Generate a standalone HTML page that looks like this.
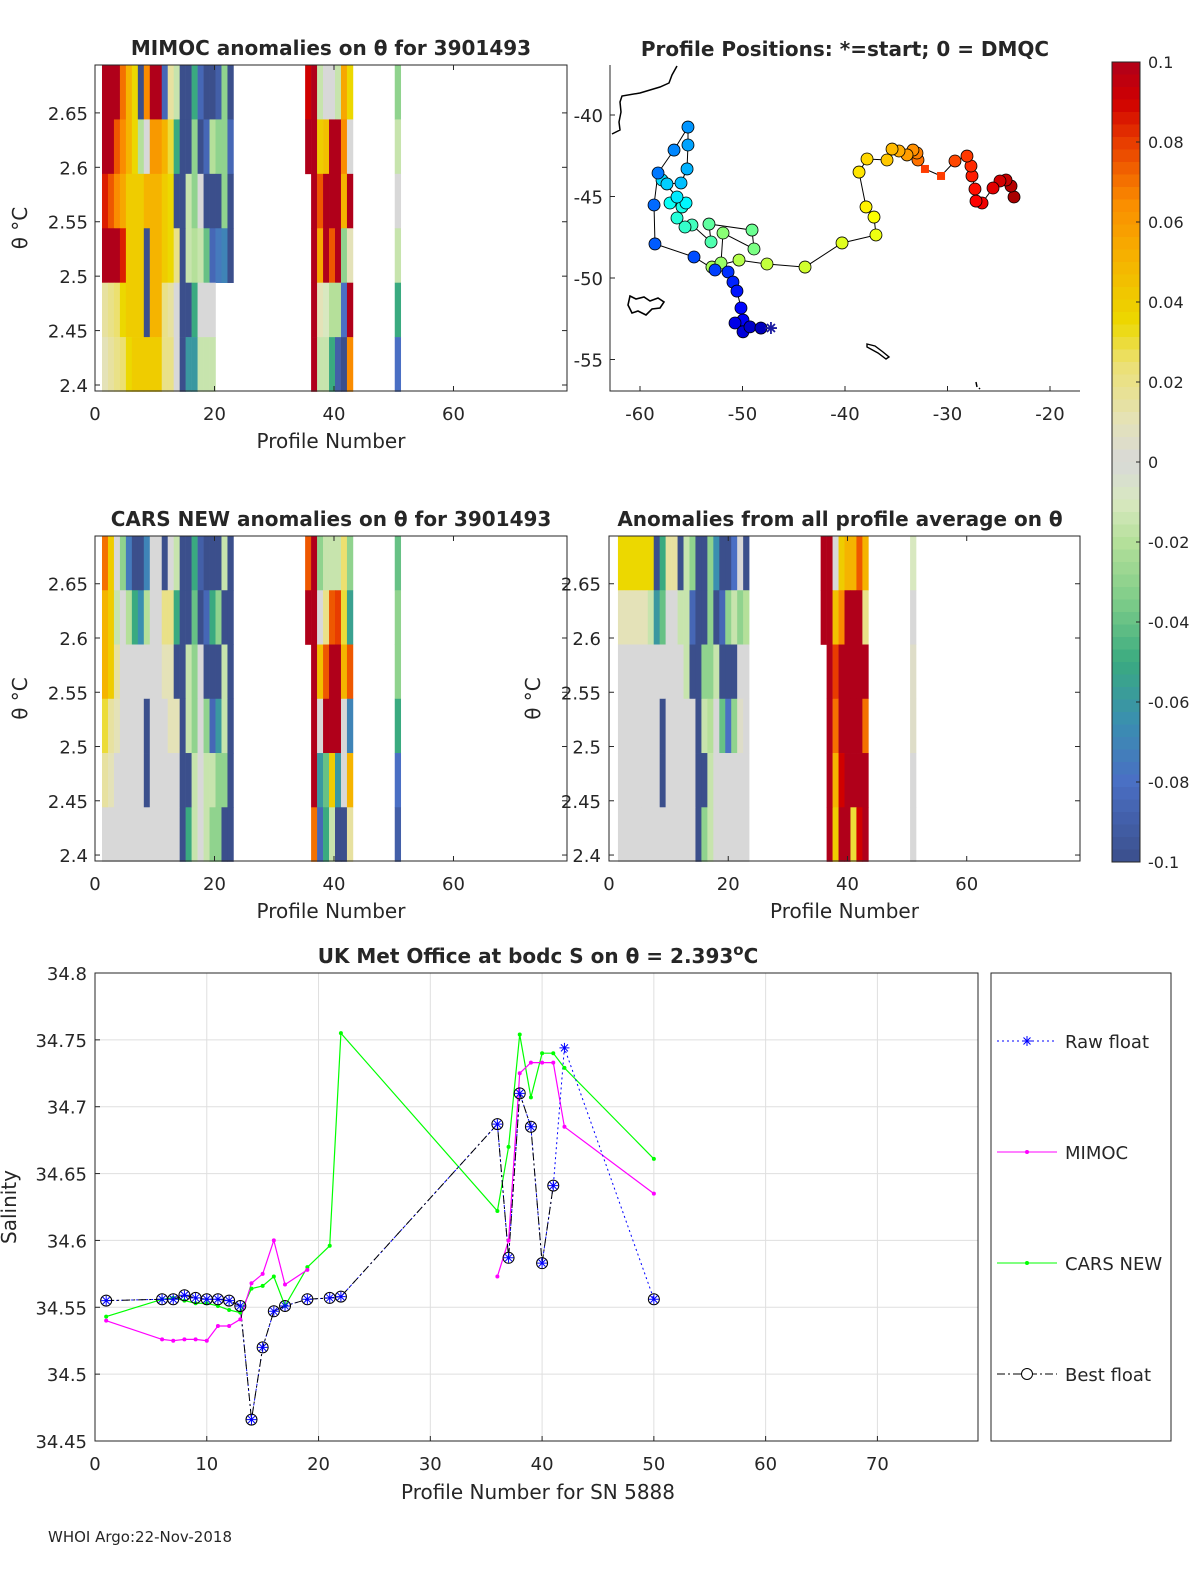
<!DOCTYPE html>
<html><head><meta charset="utf-8"><style>
html,body{margin:0;padding:0;background:#fff;overflow:hidden;width:1200px;height:1575px}
svg text{font-family:"DejaVu Sans","Liberation Sans",sans-serif;fill:#262626}
</style></head><body>
<svg id="fig" width="1200" height="1575" viewBox="0 0 1200 1575" xmlns="http://www.w3.org/2000/svg"></svg>
<script>
// ---------- DATA ----------
const heatCols = [1,2,3,4,5,6,7,8,9,10,11,12,13,14,15,16,17,18,19,20,21,22,35,36,37,38,39,40,41,42,50];
const rowEdges = [2.694,2.644,2.594,2.544,2.494,2.444,2.394];
const mimocRows = [
[.1,.1,.1,.07,.05,.035,-.1,.065,.1,.1,-.085,.015,-.015,-.1,-.1,-.05,-.085,-.1,-.1,-.09,-.03,-.1, .09,.1,-.015,0,0,-.015,.055,.035, -.03],
[.1,.1,.075,.065,.05,.035,-.02,0,.06,.06,.05,.03,-.05,-.1,-.1,-.03,-.1,-.085,-.02,-.03,-.03,-.085, .1,.1,.04,.045,.1,.1,.065,0, -.015],
[.085,.075,.065,.055,.04,.04,.04,.05,.05,.05,.04,.035,-.1,-.1,-.015,-.03,0,-.1,-.1,-.1,-.03,-.1, null,.1,.075,.1,.1,.1,.05,.1, 0],
[.1,.1,.1,.085,.04,.04,.04,-.1,.05,.05,.04,.035,.02,-.1,-.015,-.02,-.015,-.04,-.085,-.075,-.07,-.1, null,.1,.055,.1,.075,.1,-.03,.01, -.015],
[.015,.02,.025,.035,.04,.04,.04,-.1,.05,.05,.02,.015,0,-.1,-.1,-.05,0,0,0,null,null,null, null,.1,.01,-.01,-.02,-.02,-.08,.1, -.05],
[.01,.015,.02,.025,.035,.04,.04,.04,.04,.04,.02,.02,0,-.1,-.06,-.06,-.015,-.015,-.015,null,null,null, null,.1,-.015,-.015,-.05,-.09,-.1,.065, -.08]];
const carsRows = [
[.07,.04,0,-.03,-.075,-.1,-.1,-.07,0,0,-.1,0,-.015,-.1,-.1,-.05,-.09,-.1,-.1,-.1,-.015,-.1, .075,.1,-.03,-.015,-.015,-.015,.025,-.03, -.04],
[.05,.04,-.015,0,-.02,-.05,-.065,-.02,0,0,.02,.02,-.05,-.1,-.1,-.04,-.1,-.085,-.05,-.03,-.1,-.1, .1,.1,0,.02,.075,.08,.03,-.055, -.03],
[.05,.04,.015,0,0,0,0,0,0,0,.01,.01,-.1,-.1,-.015,-.03,0,-.1,-.1,-.1,-.015,-.1, null,.1,.045,.075,.1,.1,.05,.075, -.03],
[.03,.015,.01,0,0,0,0,-.1,0,0,0,.01,.01,-.1,-.015,-.03,0,-.03,-.085,-.06,-.015,-.1, null,.1,0,.1,.1,.1,0,-.07, -.05],
[.015,.01,0,0,0,0,0,-.1,0,0,0,0,0,-.1,-.1,-.015,0,-.015,-.015,-.03,-.03,-.1, null,.1,-.06,-.04,.04,-.06,0,.05, -.08],
[0,0,0,0,0,0,0,0,0,0,0,0,0,-.1,-.05,-.015,0,-.015,-.03,-.03,-.1,-.1, null,.07,-.085,-.05,-.015,-.1,-.1,.015, -.09]];
const avgRows = [
[.035,.035,.035,.035,.035,.035,-.1,-.05,.015,.015,-.1,-.015,-.03,-.1,-.1,-.03,-.065,-.1,-.1,-.08,0,-.1, .1,.1,0,.04,.05,.05,.075,.05, -.01],
[.01,.01,.01,.01,.01,-.015,-.06,-.04,0,0,-.015,-.015,-.085,-.1,-.1,-.03,-.1,-.085,-.03,-.015,-.03,-.02, .1,.1,.045,.065,.1,.1,.1,.02, 0],
[0,0,0,0,0,0,0,0,0,0,0,-.015,-.1,-.1,-.03,-.03,-.015,-.1,-.1,-.1,0,0, null,.1,.08,.1,.1,.1,.1,.1, .005],
[0,0,0,0,0,0,0,-.1,0,0,0,0,0,-.1,-.015,-.02,0,-.04,-.08,-.03,.005,0, null,.1,.07,.1,.1,.1,.1,.07, .005],
[0,0,0,0,0,0,0,-.1,0,0,0,0,0,-.1,-.1,-.015,0,0,0,0,0,0, null,.1,.05,.09,.1,.1,.1,.1, 0],
[0,0,0,0,0,0,0,0,0,0,0,0,0,-.1,-.03,-.015,0,0,0,0,0,0, null,.1,.04,.1,.1,.03,.09,.1, 0]];
const thetaTicks = [2.4,2.45,2.5,2.55,2.6,2.65];
const thetaTickLabels = ['2.4','2.45','2.5','2.55','2.6','2.65'];
const profTicks = [0,20,40,60];
const mapLon = [-48.2,-49.27,-49.95,-50.73,-49.95,-50.15,-50.54,-50.93,-51.41,-52.68,-54.73,-58.54,-58.63,-58.24,-56.68,-55.32,-55.32,-55.41,-56.0,-57.37,-57.85,-56.39,-55.51,-57.07,-55.9,-56.39,-55.61,-54.93,-53.07,-53.27,-49.07,-48.88,-51.9,-52.1,-52.98,-50.34,-47.61,-43.9,-40.29,-36.98,-37.17,-37.95,-38.63,-37.85,-35.9,-35.41,-34.73,-33.95,-33.37,-32.98,-32.88,-32.2,-30.63,-29.27,-28.1,-27.71,-27.61,-27.32,-27.22,-26.63,-25.56,-24.88,-24.29,-23.8,-23.51];
const mapLat = [-53.07,-53.0,-53.3,-52.76,-52.58,-51.84,-50.8,-50.25,-49.63,-49.51,-48.71,-47.91,-45.52,-43.56,-42.15,-40.74,-41.84,-43.31,-44.17,-44.23,-43.99,-45.03,-45.4,-45.4,-45.64,-46.32,-46.87,-46.75,-47.79,-46.69,-47.06,-48.22,-47.24,-49.08,-49.33,-48.9,-49.14,-49.33,-47.85,-47.36,-46.26,-45.64,-43.5,-42.7,-42.76,-42.09,-42.21,-42.45,-42.15,-42.33,-42.76,-43.31,-43.74,-42.82,-42.52,-43.13,-43.74,-44.54,-45.28,-45.4,-44.48,-44.05,-43.99,-44.36,-45.03];
const mapSquare = [51,52];
const lonTicks = [-60,-50,-40,-30,-20];
const latTicks = [-40,-45,-50,-55];
const cbTicks = [0.1,0.08,0.06,0.04,0.02,0,-0.02,-0.04,-0.06,-0.08,-0.1];
const cbTickLabels = ['0.1','0.08','0.06','0.04','0.02','0','-0.02','-0.04','-0.06','-0.08','-0.1'];
const profiles = [1,6,7,8,9,10,11,12,13,14,15,16,17,19,21,22,36,37,38,39,40,41,42,50];
const rawFloat = [34.555,34.556,34.556,34.559,34.557,34.556,34.556,34.555,34.551,34.466,34.520,34.547,34.551,34.556,34.557,34.558,34.687,34.587,34.710,34.685,34.583,34.641,34.744,34.556];
const bestFloat = [34.555,34.556,34.556,34.559,34.557,34.556,34.556,34.555,34.551,34.466,34.520,34.547,34.551,34.556,34.557,34.558,34.687,34.587,34.710,34.685,34.583,34.641,null,34.556];
const mimocS = [34.540,34.526,34.525,34.526,34.526,34.525,34.536,34.536,34.541,34.568,34.575,34.600,34.567,34.578,null,null,34.573,34.600,34.725,34.733,34.733,34.733,34.685,34.635];
const carsS = [34.543,34.556,34.557,34.555,34.553,34.553,34.551,34.548,34.546,34.564,34.566,34.573,34.551,34.580,34.596,34.755,34.622,34.670,34.754,34.707,34.740,34.740,34.729,34.661];
const salTicks = [34.45,34.5,34.55,34.6,34.65,34.7,34.75,34.8];
const salTickLabels = ['34.45','34.5','34.55','34.6','34.65','34.7','34.75','34.8'];
const bxTicks = [0,10,20,30,40,50,60,70];

// ---------- HELPERS ----------
const NS='http://www.w3.org/2000/svg';
const svg=document.getElementById('fig');
function mk(tag,attrs,parent){const e=document.createElementNS(NS,tag);for(const k in attrs)e.setAttribute(k,attrs[k]);(parent||svg).appendChild(e);return e;}
function txt(s,x,y,size,anchor,extra,parent){const t=mk('text',Object.assign({x:x,y:y,'font-size':size,'text-anchor':anchor||'start'},extra||{}),parent);t.textContent=s;return t;}
const stops=[[-0.1,[59,79,140]],[-0.08,[74,111,196]],[-0.065,[58,143,176]],[-0.05,[58,170,128]],[-0.035,[125,204,136]],[-0.02,[181,224,154]],[-0.01,[216,232,192]],[0,[216,216,216]],[0.01,[228,226,184]],[0.025,[236,224,112]],[0.035,[236,216,0]],[0.05,[245,180,0]],[0.065,[250,140,0]],[0.08,[232,60,0]],[0.09,[208,0,0]],[0.1,[176,0,26]]];
function cmap(v){v=Math.max(-0.1,Math.min(0.1,v));for(let i=1;i<stops.length;i++){if(v<=stops[i][0]){const a=stops[i-1],b=stops[i];const t=(v-a[0])/(b[0]-a[0]);const c=a[1].map((x,j)=>Math.round(x+(b[1][j]-x)*t));return 'rgb('+c.join(',')+')';}}return 'rgb(176,0,26)';}
function jet(t){const r=Math.max(0,Math.min(1,1.5-Math.abs(4*t-3))),g=Math.max(0,Math.min(1,1.5-Math.abs(4*t-2))),b=Math.max(0,Math.min(1,1.5-Math.abs(4*t-1)));return 'rgb('+[r,g,b].map(x=>Math.round(x*255)).join(',')+')';}

// ---------- HEATMAP PANELS ----------
function heatPanel(name,rows,X0,Y0,W,H,off,title,titleX,showYLabel,yLabelX,yTickX){
  const g=mk('g',{});
  
  
  const xs=p=>X0+(p/79)*W;
  const ys=th=>Y0+(2.694-th)/(2.694-2.3945)*H;
  rows.forEach((row,ri)=>{row.forEach((v,ci)=>{if(v===null)return;const p=heatCols[ci]+off;
    const r=mk('rect',{x:xs(p).toFixed(2),y:ys(rowEdges[ri]).toFixed(2),width:(xs(p+1)-xs(p)+0.3).toFixed(2),height:(ys(rowEdges[ri+1])-ys(rowEdges[ri])+0.3).toFixed(2),fill:cmap(v)},g);
    
    });});
  mk('rect',{x:X0,y:Y0,width:W,height:H,fill:'none',stroke:'#262626','stroke-width':1},g);
  thetaTicks.forEach((t,i)=>{const y=ys(t);mk('line',{x1:X0,x2:X0+5,y1:y,y2:y,stroke:'#262626'},g);mk('line',{x1:X0+W,x2:X0+W-5,y1:y,y2:y,stroke:'#262626'},g);
    txt(thetaTickLabels[i],yTickX,y+7,18,'end',{},g);});
  profTicks.forEach(p=>{const x=xs(p);mk('line',{x1:x,x2:x,y1:Y0+H,y2:Y0+H-5,stroke:'#262626'},g);mk('line',{x1:x,x2:x,y1:Y0,y2:Y0+5,stroke:'#262626'},g);txt(String(p),x,Y0+H+29,18,'middle',{},g);});
  txt('Profile Number',X0+W/2,Y0+H+57,20,'middle',{},g);
  txt(title,titleX,Y0-10,20,'middle',{'font-weight':'bold',fill:'#000'},g);
  if(showYLabel){txt('θ °C',0,0,20,'middle',{transform:'translate('+yLabelX+','+(Y0+H/2)+') rotate(-90)'},g);}
}
heatPanel('mimoc-anomaly-heatmap',mimocRows,95,65,472,326,0.17,'MIMOC anomalies on θ  for 3901493',331,true,27,88);
heatPanel('cars-anomaly-heatmap',carsRows,95,536,472,325,0.17,'CARS NEW anomalies on θ for 3901493',331,true,27,88);
heatPanel('profile-average-anomaly-heatmap',avgRows,609,536,471,325,0.5,'Anomalies from all profile average on θ',840,true,540,601);

// ---------- MAP ----------
(function(){
  const g=mk('g',{});
  
  
  const X0=610,Y0=65,W=470,H=326;
  const xs=lon=>640+(lon+60)*10.25, ys=lat=>115+(-40-lat)*16.3;
  mk('polyline',{points:'677,66 672,75 669,83 660,87 640,93 622,96 620,102 621,112 619,122 620,130 612,134',fill:'none',stroke:'#000','stroke-width':1.5},g);
  mk('path',{d:'M630,296 l6,3 l8,-2 l6,4 l8,-3 l6,4 l-4,6 l-8,1 l-6,6 l-8,-4 l-6,2 l-4,-8 z',fill:'none',stroke:'#000','stroke-width':1.6},g);
  mk('path',{d:'M867,344 l8,2 l8,6 l6,5 l-3,2 l-8,-6 l-11,-6 z',fill:'none',stroke:'#000','stroke-width':1.4},g);
  mk('path',{d:'M976,382 l1,5 M979,388 l1,1',fill:'none',stroke:'#000','stroke-width':1.5},g);
  const pts=mapLon.map((l,i)=>xs(l).toFixed(1)+','+ys(mapLat[i]).toFixed(1)).join(' ');
  mk('polyline',{points:pts,fill:'none',stroke:'#000','stroke-width':1},g);
  const N=mapLon.length;
  for(let i=N-1;i>=0;i--){const x=xs(mapLon[i]),y=ys(mapLat[i]);const c=jet(0.06+0.9*i/(N-1));
    let m;
    if(mapSquare.includes(i)) m=mk('rect',{x:x-4,y:y-4,width:8,height:8,fill:'rgb(255,60,0)'},g);
    else m=mk('circle',{cx:x,cy:y,r:6,fill:c,stroke:'#000','stroke-width':0.8},g);
    
    }
  const sx=xs(mapLon[0])+10,sy=ys(mapLat[0]);
  mk('path',{d:`M${sx-6},${sy} h12 M${sx},${sy-6} v12 M${sx-4},${sy-4} l8,8 M${sx-4},${sy+4} l8,-8`,stroke:'#1a1aa0','stroke-width':1.8},g);
  mk('polyline',{points:`${X0},${Y0} ${X0},${Y0+H} ${X0+W},${Y0+H}`,fill:'none',stroke:'#262626'},g);
  lonTicks.forEach(l=>{const x=xs(l);mk('line',{x1:x,x2:x,y1:Y0+H,y2:Y0+H-5,stroke:'#262626'},g);txt(String(l),x,Y0+H+29,18,'middle',{},g);});
  latTicks.forEach(l=>{const y=ys(l);mk('line',{x1:X0,x2:X0+5,y1:y,y2:y,stroke:'#262626'},g);txt(String(l),603,y+7,18,'end',{},g);});
  txt('Profile Positions: *=start; 0 = DMQC',845,56,20,'middle',{'font-weight':'bold',fill:'#000'},g);
})();

// ---------- COLORBAR ----------
(function(){
  const g=mk('g',{});
  
  
  const X=1112,Y0=62,H=800,W=28;
  const nb=64;
  for(let i=0;i<nb;i++){const v=0.1-0.2*(i+0.5)/nb;mk('rect',{x:X,y:Y0+i*H/nb,width:W,height:H/nb+0.5,fill:cmap(v)},g);}
  mk('rect',{x:X,y:Y0,width:W,height:H,fill:'none',stroke:'#262626'},g);
  cbTicks.forEach((t,i)=>{const y=Y0+(0.1-t)/0.2*H;mk('line',{x1:X+W,x2:X+W-4,y1:y,y2:y,stroke:'#262626'},g);txt(cbTickLabels[i],1148,y+6,16,'start',{},g);});
})();

// ---------- BOTTOM SALINITY CHART ----------
(function(){
  const g=mk('g',{});
  
  
  const X0=95,Y0=973,W=883,H=468;
  const xs=p=>X0+p/79*W, ys=s=>Y0+(34.8-s)/0.35*H;
  bxTicks.forEach(p=>{const x=xs(p);mk('line',{x1:x,x2:x,y1:Y0,y2:Y0+H,stroke:'#dfdfdf'},g);txt(String(p),x,Y0+H+29,18,'middle',{},g);mk('line',{x1:x,x2:x,y1:Y0+H,y2:Y0+H-5,stroke:'#262626'},g);});
  salTicks.forEach((s,i)=>{const y=ys(s);mk('line',{x1:X0,x2:X0+W,y1:y,y2:y,stroke:'#dfdfdf'},g);txt(salTickLabels[i],87,y+7,18,'end',{},g);mk('line',{x1:X0,x2:X0+5,y1:y,y2:y,stroke:'#262626'},g);});
  mk('rect',{x:X0,y:Y0,width:W,height:H,fill:'none',stroke:'#262626'},g);
  function segs(vals){const out=[];let cur=[];vals.forEach((v,i)=>{if(v===null){if(cur.length)out.push(cur);cur=[];}else cur.push(xs(profiles[i]).toFixed(1)+','+ys(v).toFixed(1));});if(cur.length)out.push(cur);return out;}
  function series(name,vals,color,dash,w){segs(vals).forEach(s=>{const l=mk('polyline',Object.assign({points:s.join(' '),fill:'none',stroke:color,'stroke-width':w},dash?{'stroke-dasharray':dash}:{}),g);
    
    });}
  series('cars-new-line',carsS,'#00ff00',null,1.2);
  series('mimoc-line',mimocS,'#ff00ff',null,1.2);
  series('raw-float-line',rawFloat,'#0000ff','2,3',1);
  series('best-float-line',bestFloat,'#000','8,3,2,3',1);
  carsS.forEach((v,i)=>{if(v!==null)mk('circle',{cx:xs(profiles[i]),cy:ys(v),r:2,fill:'#00ff00'},g);});
  mimocS.forEach((v,i)=>{if(v!==null)mk('circle',{cx:xs(profiles[i]),cy:ys(v),r:2,fill:'#ff00ff'},g);});
  bestFloat.forEach((v,i)=>{if(v===null)return;const c=mk('circle',{cx:xs(profiles[i]),cy:ys(v),r:5.5,fill:'none',stroke:'#000','stroke-width':1},g);
    
    });
  rawFloat.forEach((v,i)=>{const x=xs(profiles[i]),y=ys(v);mk('path',{d:`M${x-5},${y} h10 M${x},${y-5} v10 M${x-3.5},${y-3.5} l7,7 M${x-3.5},${y+3.5} l7,-7`,stroke:'#0000ff','stroke-width':1},g);});
  txt('UK Met Office at bodc S on θ = 2.393',538,963,20,'middle',{'font-weight':'bold',fill:'#000'},g).innerHTML='UK Met Office at bodc S on θ = 2.393<tspan dy="-8" font-size="15">o</tspan><tspan dy="8">C</tspan>';
  txt('Profile Number for SN 5888',538,1499,20,'middle',{},g);
  txt('Salinity',0,0,20,'middle',{transform:'translate(16,1207) rotate(-90)'},g);
  // legend
  const lg=mk('g',{});
  
  
  mk('rect',{x:991,y:973,width:180,height:468,fill:'#fff',stroke:'#262626'},lg);
  const ent=[['Raw float','#0000ff','2,3','star',1041],['MIMOC','#ff00ff',null,'dot',1152],['CARS NEW','#00ff00',null,'dot',1263],['Best float','#000','8,3,2,3','circle',1374]];
  ent.forEach(e=>{const eg=mk('g',{},lg);
    
    
    const y=e[4];mk('line',Object.assign({x1:997,x2:1057,y1:y,y2:y,stroke:e[1],'stroke-width':1},e[2]?{'stroke-dasharray':e[2]}:{}),eg);
    if(e[3]==='star')mk('path',{d:`M1022,${y} h10 M1027,${y-5} v10 M1023.5,${y-3.5} l7,7 M1023.5,${y+3.5} l7,-7`,stroke:'#0000ff'},eg);
    if(e[3]==='dot')mk('circle',{cx:1027,cy:y,r:2,fill:e[1]},eg);
    if(e[3]==='circle')mk('circle',{cx:1027,cy:y,r:5.5,fill:'#fff',stroke:'#000'},eg);
    txt(e[0],1065,y+7,18,'start',{},eg);});
})();
txt('WHOI Argo:22-Nov-2018',48,1542,15,'start',{fill:'#000'});
</script>
</body></html>
